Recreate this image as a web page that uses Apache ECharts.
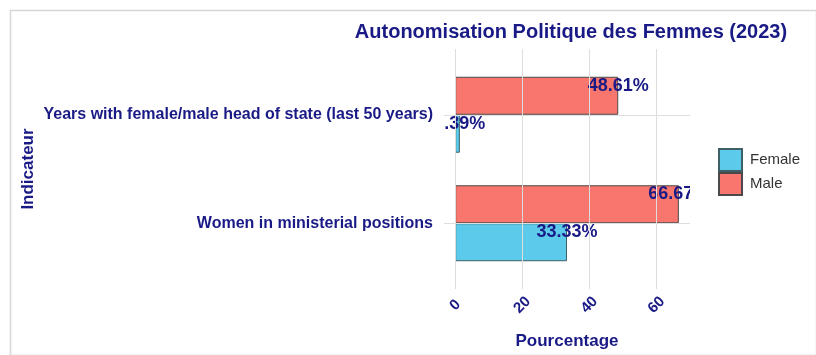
<!DOCTYPE html>
<html>
<head>
<meta charset="utf-8">
<script src="https://cdn.jsdelivr.net/npm/echarts@6/dist/echarts.min.js"></script>
<style>
  html, body { margin: 0; padding: 0; background: #ffffff; }
  #chart { width: 816px; height: 355px; }
</style>
</head>
<body>
<div id="chart"></div>
<script>
// Indicators, listed bottom to top on the category axis
const categories = [
  'Women in ministerial positions',
  'Years with female/male head of state (last 50 years)'
];
const femaleValues = [33.33, 1.39];
const maleValues = [66.67, 48.61];
const valueTicks = [0, 20, 40, 60];

const NAVY = '#1a1a86';
const FONT = '"Liberation Sans", Arial, sans-serif';
const BAND_FRAC = 0.7;      // bars fill 70% of each category band
const X_MIN = -3.3335, X_MAX = 70;
const chart = echarts.init(document.getElementById('chart'));

// Value labels: drawn at each bar end, clipped to the plotting area
const labelData = [];
maleValues.forEach((v, i) => labelData.push([v, i, 0]));
femaleValues.forEach((v, i) => labelData.push([v, i, 1]));

function renderLabel(params, api) {
  const v = api.value(0);
  const ci = api.value(1);
  const which = api.value(2);
  const pt = api.coord([v, ci]);
  const band = api.size([0, 1])[1];
  const barCenter = pt[1] + (which === 0 ? -1 : 1) * band * BAND_FRAC / 4;
  return {
    type: 'text',
    x: pt[0],
    y: barCenter - 10,
    style: {
      text: v.toFixed(2) + '%',
      fill: NAVY,
      font: 'bold 18px ' + FONT,
      align: 'center',
      verticalAlign: 'middle'
    }
  };
}

const option = {
  backgroundColor: '#ffffff',
  animation: false,
  title: {
    text: 'Autonomisation Politique des Femmes (2023)',
    left: 566,
    textAlign: 'center',
    top: 17,
    textStyle: { color: NAVY, fontFamily: FONT, fontWeight: 'bold', fontSize: 20 }
  },
  legend: {
    data: ['Female', 'Male'],
    orient: 'vertical',
    left: 713,
    top: 143,
    itemWidth: 23,
    itemHeight: 22,
    itemGap: 0,
    icon: 'rect',
    textStyle: { color: '#333', fontFamily: FONT, fontSize: 15, padding: [0, 0, 0, 3] }
  },
  grid: [
    // full panel: vertical gridlines and the value axis
    { left: 444, right: 126, top: 49, bottom: 66 },
    // bar area: category bands of the panel, inset by the band expansion
    { left: 444, right: 126, top: 60.5, bottom: 77.5 }
  ],
  xAxis: [
    {
      gridIndex: 0,
      type: 'value',
      min: X_MIN,
      max: X_MAX,
      name: 'Pourcentage',
      nameLocation: 'middle',
      nameGap: 44,
      nameTextStyle: { color: NAVY, fontFamily: FONT, fontWeight: 'bold', fontSize: 17 },
      axisLine: { show: false },
      axisTick: { show: false },
      axisLabel: {
        rotate: 45,
        margin: 16,
        align: 'center',
        verticalAlign: 'middle',
        color: NAVY,
        fontFamily: FONT,
        fontWeight: 'bold',
        fontSize: 15,
        customValues: valueTicks
      },
      splitLine: { show: false }
    },
    {
      gridIndex: 1,
      type: 'value',
      min: X_MIN,
      max: X_MAX,
      show: false
    }
  ],
  yAxis: [
    {
      gridIndex: 0,
      type: 'value',
      min: 0,
      max: 1,
      show: false
    },
    {
      gridIndex: 1,
      type: 'category',
      data: categories,
      name: 'Indicateur',
      nameLocation: 'middle',
      nameRotate: 90,
      nameGap: 407,
      nameTextStyle: { color: NAVY, fontFamily: FONT, fontWeight: 'bold', fontSize: 17 },
      axisLine: { show: false },
      axisTick: { show: false },
      axisLabel: {
        color: NAVY, fontFamily: FONT, fontWeight: 'bold', fontSize: 16, margin: 11,
        padding: [6, 0, 0, 0]
      },
      splitLine: { show: false }
    }
  ],
  series: [
    {
      // vertical panel gridlines at the value ticks
      name: 'vgrid',
      type: 'line',
      xAxisIndex: 0,
      yAxisIndex: 0,
      data: [],
      z: 0,
      silent: true,
      markLine: {
        silent: true,
        symbol: 'none',
        label: { show: false },
        lineStyle: { color: '#dedede', width: 1, type: 'solid' },
        data: valueTicks.map(t => ({ xAxis: t }))
      }
    },
    {
      // horizontal panel gridlines at the category centres
      name: 'hgrid',
      type: 'line',
      xAxisIndex: 1,
      yAxisIndex: 1,
      data: [],
      z: 0,
      silent: true,
      markLine: {
        silent: true,
        symbol: 'none',
        label: { show: false },
        lineStyle: { color: '#dedede', width: 1, type: 'solid' },
        data: categories.map(c => ({ yAxis: c }))
      }
    },
    {
      name: 'Male',
      type: 'bar',
      xAxisIndex: 1,
      yAxisIndex: 1,
      data: maleValues,
      barWidth: '35%',
      barGap: '0%',
      z: 2,
      itemStyle: { color: '#f8766d', borderColor: '#4a4a4a', borderWidth: 1 }
    },
    {
      name: 'Female',
      type: 'bar',
      xAxisIndex: 1,
      yAxisIndex: 1,
      data: femaleValues,
      barWidth: '35%',
      barGap: '0%',
      z: 2,
      itemStyle: { color: '#5ccbeb', borderColor: '#3f5f66', borderWidth: 1 }
    },
    {
      name: 'labels',
      type: 'custom',
      xAxisIndex: 1,
      yAxisIndex: 1,
      data: labelData,
      renderItem: renderLabel,
      clip: true,
      z: 3,
      silent: true
    }
  ],
  graphic: [
    {
      type: 'rect',
      left: 8,
      top: 8,
      shape: { width: 806, height: 345 },
      style: { fill: 'none', stroke: '#d6d6d6', lineWidth: 1.5 },
      silent: true,
      z: -1
    }
  ]
};

chart.setOption(option);
</script>
</body>
</html>
